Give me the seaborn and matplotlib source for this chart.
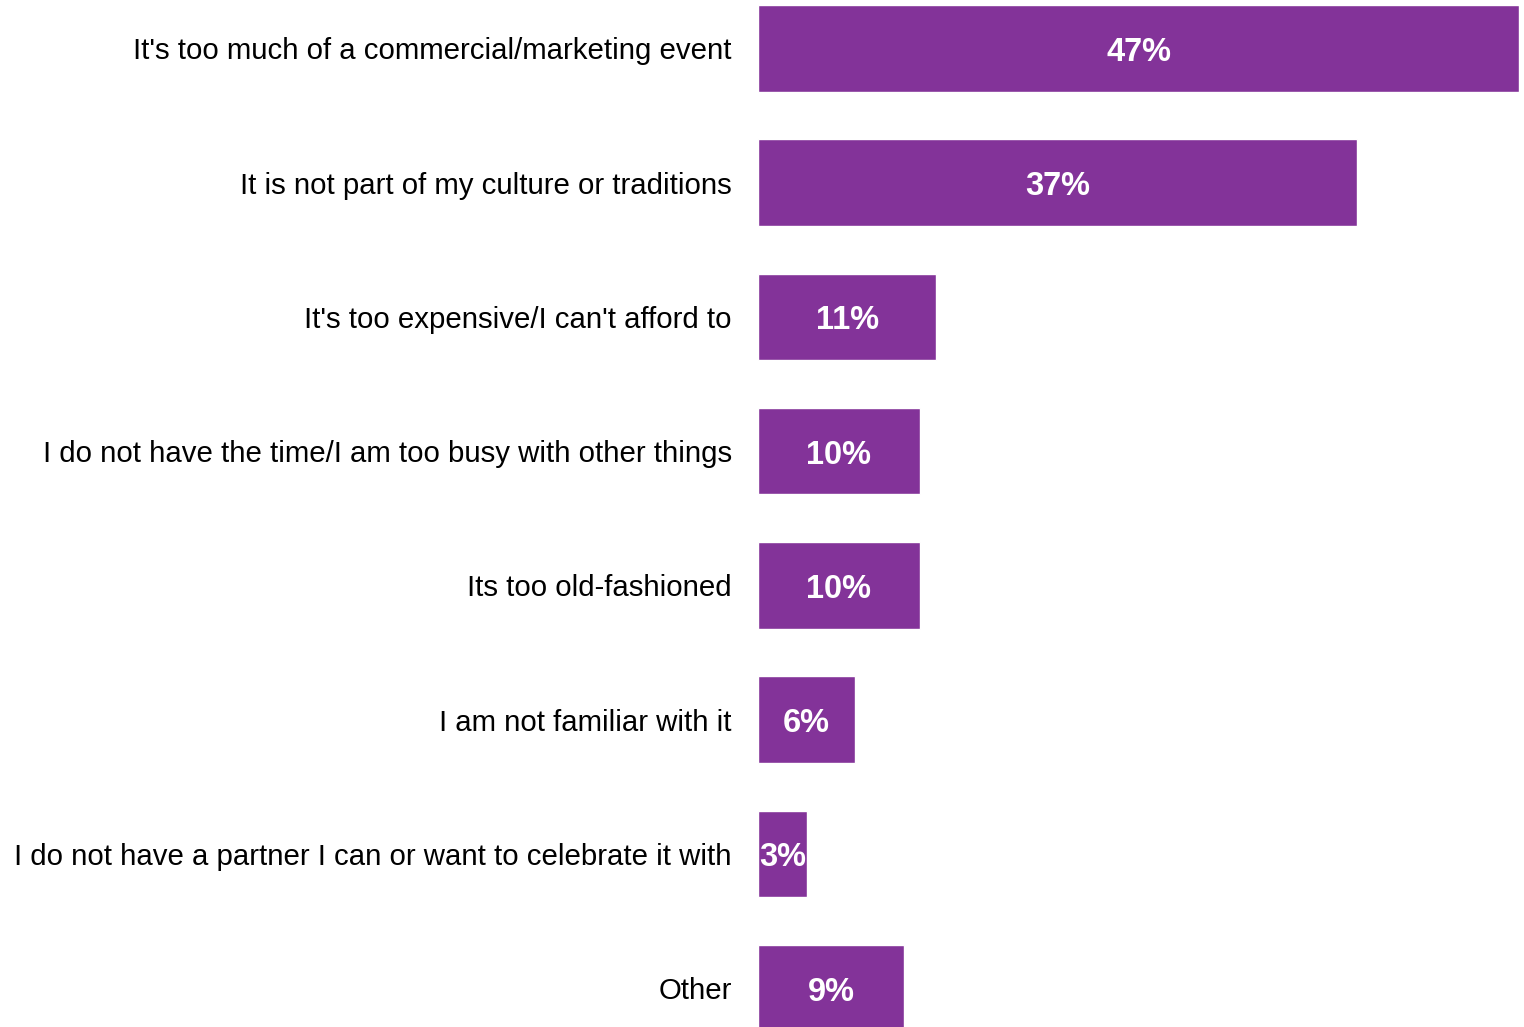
import pandas as pd
import seaborn as sns
import matplotlib.pyplot as plt

reasons = [
    "It's too much of a commercial/marketing event",
    "It is not part of my culture or traditions",
    "It's too expensive/I can't afford to",
    "I do not have the time/I am too busy with other things",
    "Its too old-fashioned",
    "I am not familiar with it",
    "I do not have a partner I can or want to celebrate it with",
    "Other",
]
share = [47, 37, 11, 10, 10, 6, 3, 9]

df = pd.DataFrame({"reason": reasons, "share": share})

sns.set_theme(style="white")
plt.rcParams['font.family'] = ['Liberation Sans', 'DejaVu Sans']

fig = plt.figure(figsize=(15.24, 10.27), dpi=100)
ax = fig.add_axes([0.4974, 0, 0.4993, 1])

sns.barplot(data=df, x="share", y="reason", color="#833399", saturation=1,
            width=0.645, ax=ax)

ax.set_xlim(0, 47)
ax.set_ylim(7.29, -0.36)
ax.set_xlabel("")
ax.set_ylabel("")
ax.set_xticks([])
ax.tick_params(axis="y", length=0, pad=19, labelsize=21.2, labelcolor="black")
sns.despine(ax=ax, left=True, bottom=True)

for i, v in enumerate(share):
    ax.text(v / 2, i + 0.03, f"{v}%", ha="center", va="center",
            color="white", fontsize=23.5, fontweight="bold", clip_on=False)

fig.savefig("out.png", dpi=100)
